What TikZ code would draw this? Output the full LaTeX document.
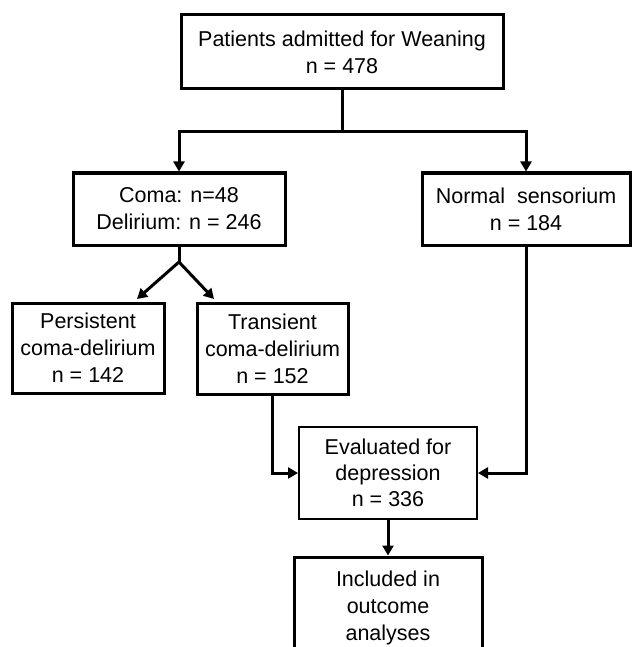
\documentclass[tikz,border=0pt]{standalone}
\usepackage{fontspec}
\setmainfont{Liberation Sans}
\usepackage{tikz}
\usetikzlibrary{arrows.meta,positioning}

\tikzset{
  box/.style={draw, line width=3pt, align=center, inner sep=0pt,
    font=\fontsize{21.5}{27}\selectfont},
  thinbox/.style={box, line width=2pt, font=\fontsize{21.5}{26}\selectfont},
  link/.style={line width=3pt},
  arr/.style={link, -{Triangle[length=10pt,width=11pt]}}
}

\begin{document}
\begin{tikzpicture}[x=1pt,y=-1pt]
\useasboundingbox (0,0) rectangle (632,647);

% Boxes
\node[box, minimum width=322pt, minimum height=74pt] (admitted) at (342,52)
  {Patients admitted for Weaning\\n = 478};
\node[box, minimum width=212pt, minimum height=72pt] (coma) at (179,209)
  {Coma: n=48\\Delirium: n = 246};
\node[box, minimum width=208pt, minimum height=72pt] (normal) at (526,209)
  {Normal\ \ sensorium\\n = 184};
\node[box, minimum width=152pt, minimum height=90pt] (persistent) at (88,348)
  {Persistent\\coma-delirium\\n = 142};
\node[box, minimum width=151pt, minimum height=91pt] (transient) at (272.5,348.5)
  {Transient\\coma-delirium\\n = 152};
\node[thinbox, minimum width=178pt, minimum height=92pt] (evaluated) at (388,473)
  {Evaluated for\\depression\\n = 336};
\node[box, minimum width=188pt, minimum height=102pt] (included) at (388,608)
  {Included in\\outcome\\analyses};

% Split below the first box
\coordinate (split) at (342,132);
\draw[link] (admitted) -- (split);
\draw[arr] (split) -| (coma.north);
\draw[arr] (split) -| (normal.north);

% Fork below coma / delirium
\coordinate (fork) at (179,262);
\coordinate (forkleft) at (137,299);
\coordinate (forkright) at (214,299);
\draw[link] (coma) -- (fork);
\draw[arr] (fork) -- (forkleft);
\draw[arr] (fork) -- (forkright);

% Into evaluation
\draw[arr] (transient.south) |- (evaluated.west);
\draw[arr] (normal.south) |- (evaluated.east);
\draw[arr] (evaluated) -- (included);
\end{tikzpicture}
\end{document}
